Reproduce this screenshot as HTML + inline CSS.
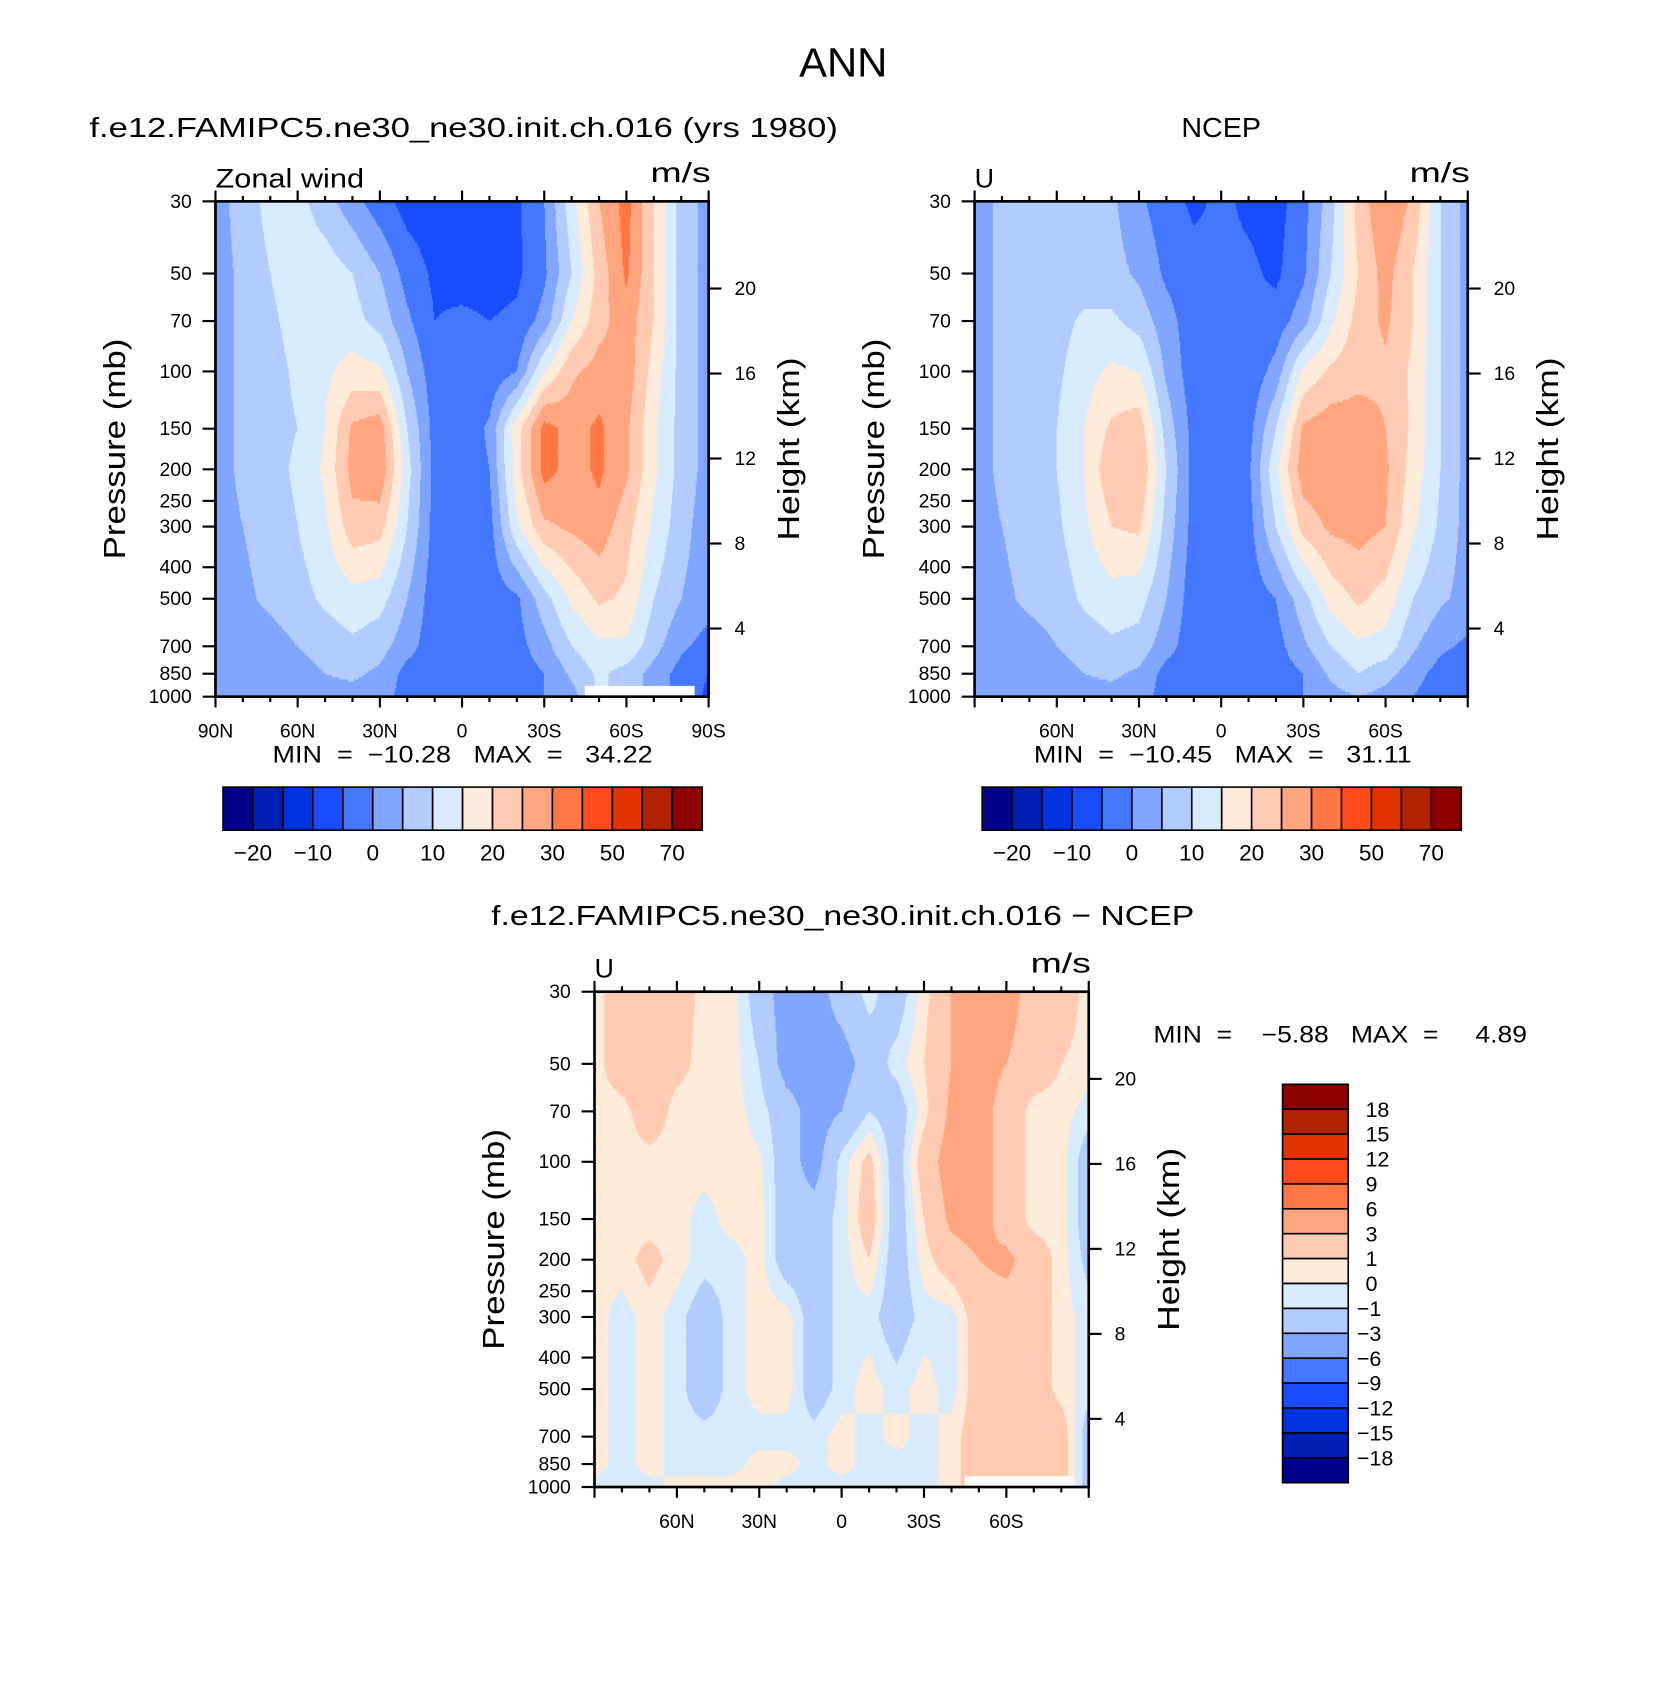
<!DOCTYPE html>
<html><head><meta charset="utf-8"><style>
html,body{margin:0;padding:0;background:#fff;}
svg{display:block;font-family:"Liberation Sans","DejaVu Sans",sans-serif;}
</style></head><body>
<svg id="fig" xmlns="http://www.w3.org/2000/svg" width="1680" height="1683" viewBox="0 0 1560 1563">
<rect x="0" y="0" width="1560" height="1563" fill="#fff"/>
<text x="783" y="71" font-size="38" text-anchor="middle" textLength="82" lengthAdjust="spacingAndGlyphs">ANN</text>
<text x="83" y="127" font-size="26" textLength="695" lengthAdjust="spacingAndGlyphs">f.e12.FAMIPC5.ne30_ne30.init.ch.016 (yrs 1980)</text>
<text x="1134" y="127" font-size="26" text-anchor="middle" textLength="74" lengthAdjust="spacingAndGlyphs">NCEP</text>
<text x="456" y="859" font-size="26" textLength="653" lengthAdjust="spacingAndGlyphs">f.e12.FAMIPC5.ne30_ne30.init.ch.016 − NCEP</text>
<g id="layer"></g>
</svg>
<script>
// ---- data ----
const latitudes = [90,80,70,60,50,40,30,20,10,0,-10,-20,-30,-40,-50,-60,-70,-80,-90];
const pressureLevels = [30,50,70,100,150,200,300,500,700,850,1000];
const fieldLevels = [-20,-15,-10,-5,0,5,10,15,20,25,30,40,50,60,70];
const fieldLevelLabels = ["−20","−10","0","10","20","30","50","70"];
const diffLevels = [-18,-15,-12,-9,-6,-3,-1,0,1,3,6,9,12,15,18];
const diffLevelLabels = ["18","15","12","9","6","3","1","0","−1","−3","−6","−9","−12","−15","−18"];
const palette = ["#00008c","#0020b4","#0033e0","#1a4cff","#4477ff","#80a6ff","#b3ccff","#d9ebff","#ffebd9","#ffccb3","#ffa680","#ff7744","#ff4c1a","#e03300","#b32200","#8c0000"];
const latTickLabelsFull = ["90N","60N","30N","0","30S","60S","90S"];
const latTickValuesFull = [90,60,30,0,-30,-60,-90];
const latTickLabels = ["60N","30N","0","30S","60S"];
const latTickValues = [60,30,0,-30,-60];
const pressureTicks = [30,50,70,100,150,200,250,300,400,500,700,850,1000];
const heightTicks = [4,8,12,16,20];
const N = null;
const modelU = [
 [3,7,12,12,7,2,-3,-7,-8,-8,-8,-6,0,13,25,32,20,8,3],
 [3,6,10,13,13,10,5,-2,-6,-7,-7,-6,-1,10,22,31,20,8,3],
 [3,6,9,12,13,12,8,1,-5,-4,-5,-4,2,15,23,28,20,8,3],
 [3,6,8,11,14,17,16,5,-3,-4,-4,0,15,24,27,28,18,8,3],
 [3,6,8,10,15,26,28,10,-2,-4,1,18,32,28,31,26,16,8,3],
 [3,6,8,11,16,27,29,12,-2,-4,0,18,32,28,31,26,16,8,3],
 [3,5,7,10,14,23,22,10,-2,-4,-2,14,24,26,28,22,14,7,2],
 [3,4,6,8,11,13,12,5,-3,-4,-3,-1,8,16,21,19,10,5,2],
 [2,3,3,5,7,9,7,2,-3,-4,-3,-2,3,10,14,14,7,1,-2],
 [2,2,2,3,5,6,4,-2,-3,-3,-3,-3,0,6,11,8,3,-2,-5],
 [1,1,1,2,3,3,2,-2,-3,-4,-3,-3,0,3,N,N,N,N,-6]
];
const ncepU = [
 [3,6,7,7,7,6,1,-3,-6,-4,-6,-7,-2,8,22,30,24,10,3],
 [3,6,7,7,7,7,4,-1,-3,-4,-4,-6,-1,10,20,27,20,10,3],
 [3,6,7,8,11,11,8,2,-3,-4,-4,-3,3,14,22,26,20,10,3],
 [3,6,7,9,13,16,15,4,-3,-4,-4,2,16,21,23,24,19,10,3],
 [3,6,7,10,15,21,23,8,-2,-4,-2,10,26,28,28,25,19,10,3],
 [3,6,7,10,15,24,25,10,-2,-4,-1,14,28,29,28,26,18,10,3],
 [3,5,7,9,14,20,21,8,-2,-4,-2,10,22,26,27,25,16,9,3],
 [3,4,6,7,11,13,12,5,-3,-4,-3,0,8,17,21,18,10,6,3],
 [2,3,3,5,7,9,8,2,-3,-5,-4,-2,4,10,14,13,6,1,-1],
 [2,2,2,3,5,6,4,-2,-3,-3,-3,-3,0,6,10,7,2,-2,-3],
 [1,1,1,2,3,3,2,-2,-3,-3,-3,-3,0,3,5,3,0,-3,-3]
];
const diffU = [
 [0.5,2,2,2,0.5,0.5,-2,-4,-4,-2,-0.5,-2,0.5,3,4,4,2,2,0.5],
 [0.5,2,2,1.5,0.5,0.5,-1,-4,-4,-4,-2,-0.5,1,3,4,3,2,1,0.5],
 [0.5,0.5,2,0.5,0.5,0.5,-0.5,-2,-4,-3,-1,-2,0.5,3.5,4,2,0.5,0.5,-0.5],
 [0.5,0.5,0.5,0.5,0.5,0.5,0.2,-2,-4,-0.5,1.5,-2,2,4,4,2,0.5,0.5,-2],
 [0.5,0.5,0.5,0.5,-0.5,0.5,0.5,-2,-2,-0.5,2,-2,1,3.5,4,2,0.5,0.5,-2],
 [0.5,0.5,1.5,0.5,-0.5,-0.5,0.5,-2,-2,-0.5,1,-2,0.5,2,3,3.5,2,0.5,-1.5],
 [0.5,-0.5,0.5,-0.5,-2,-0.5,0.5,0.5,-2,-0.5,-0.5,-2,-0.5,-0.5,2,2,2,0.5,-0.5],
 [0.5,-0.5,0.5,-0.5,-2,-0.5,0.5,0.5,-2,-0.5,0.5,-0.5,0.5,-0.5,2,2,2,0.5,-0.5],
 [0.5,-0.5,0.5,-0.5,-0.5,-0.5,-0.5,-0.5,-0.5,0.5,-0.5,0.5,-0.5,0.5,2,2,2,2,-2],
 [0.5,-0.5,0.5,-0.5,-0.5,-0.5,0.5,0.5,-0.5,0.5,-0.5,-0.5,-0.5,0.5,2,2,2,2,-2],
 [-0.5,-0.5,-0.5,0.5,0.5,0.5,0.5,-0.5,-0.5,-0.5,-0.5,-0.5,-0.5,0.5,N,N,N,N,-2]
];

// ---- drawing ----
const NS = "http://www.w3.org/2000/svg";
const layer = document.getElementById('layer');
function mk(tag, attrs, parent, txt){
  const e = document.createElementNS(NS, tag);
  for (const k in attrs) e.setAttribute(k, attrs[k]);
  if (txt !== undefined) e.textContent = txt;
  (parent || layer).appendChild(e);
  return e;
}
function colorIndex(v, levels){
  let i = 0; while (i < levels.length && v >= levels[i]) i++; return i;
}
function makeScales(x0, y0, w, h){
  const lp0 = Math.log10(30), lp1 = Math.log10(1000);
  return {
    x: lat => x0 + (90 - lat) / 180 * w,
    y: p => y0 + (Math.log10(p) - lp0) / (lp1 - lp0) * h,
    z: km => y0 + h * (1.034 - 0.0429 * km),
    x0, y0, w, h
  };
}
function sample(field, lat, p){
  const lp = Math.log10(p);
  let j = 0; while (j < pressureLevels.length - 2 && Math.log10(pressureLevels[j+1]) < lp) j++;
  const la = Math.log10(pressureLevels[j]), lb = Math.log10(pressureLevels[j+1]);
  const ty = Math.min(1, Math.max(0, (lp - la) / (lb - la)));
  const fi = (90 - lat) / 10;
  let i = Math.min(latitudes.length - 2, Math.floor(fi));
  const tx = fi - i;
  const a = field[j][i], b = field[j][i+1], c = field[j+1][i], d = field[j+1][i+1];
  if ((c === null || d === null) && ty > 0.5) {
    const nn = tx < 0.5 ? c : d;
    if (nn === null) return null;
  }
  const cc = c === null ? a : c, dd = d === null ? b : d;
  return (a*(1-tx) + b*tx) * (1-ty) + (cc*(1-tx) + dd*tx) * ty;
}
function txt(x, y, s, name, size, extra){
  const attrs = Object.assign({x, y, 'font-size': size}, extra || {});
  const t = mk('text', attrs, layer, s);
  
  
  return t;
}
function drawPanel(name, field, levels, sc, opts){
  const g = mk('g', {});
  
  
  const step = 2;
  for (let py = sc.y0; py < sc.y0 + sc.h; py += step) {
    const p = Math.pow(10, Math.log10(30) + (py + step/2 - sc.y0) / sc.h * (Math.log10(1000) - Math.log10(30)));
    let runStart = sc.x0, runColor = null;
    for (let px = sc.x0; px <= sc.x0 + sc.w; px += 1) {
      let col;
      if (px >= sc.x0 + sc.w) col = '__end';
      else {
        const lat = 90 - (px + 0.5 - sc.x0) / sc.w * 180;
        const v = sample(field, lat, p);
        col = v === null ? '#ffffff' : palette[colorIndex(v, levels)];
      }
      if (col !== runColor) {
        if (runColor !== null) {
          const r = mk('rect', {x: runStart, y: py, width: px - runStart + 0.6, height: step + 0.6, fill: runColor}, g);
          
          
        }
        runStart = px; runColor = col;
      }
    }
  }
  const fr = mk('rect', {x: sc.x0, y: sc.y0, width: sc.w, height: sc.h, fill: 'none', stroke: '#000', 'stroke-width': 2.5});
  
  
  const ax = mk('g', {stroke: '#000', 'stroke-width': 2});
  
  
  for (let lat = 90; lat >= -90; lat -= 10) {
    const x = sc.x(lat), major = lat % 30 === 0, len = major ? 10 : 5;
    mk('line', {x1: x, x2: x, y1: sc.y0, y2: sc.y0 - len}, ax);
    mk('line', {x1: x, x2: x, y1: sc.y0 + sc.h, y2: sc.y0 + sc.h + len}, ax);
  }
  pressureTicks.forEach(p => {
    const y = sc.y(p);
    mk('line', {x1: sc.x0, x2: sc.x0 - 12, y1: y, y2: y}, ax);
    txt(sc.x0 - 22, y + 6, String(p), 'pressure-tick-label', 18, {'text-anchor': 'end'});
  });
  heightTicks.forEach(z => {
    const y = sc.z(z);
    mk('line', {x1: sc.x0 + sc.w, x2: sc.x0 + sc.w + 12, y1: y, y2: y}, ax);
    txt(sc.x0 + sc.w + 24, y + 6, String(z), 'height-tick-label', 18);
  });
  const vals = opts.full ? latTickValuesFull : latTickValues;
  const labs = opts.full ? latTickLabelsFull : latTickLabels;
  vals.forEach((v, k) => {
    txt(sc.x(v), sc.y0 + sc.h + 38, labs[k], 'latitude-tick-label', 18, {'text-anchor': 'middle'});
  });
  const cyy = sc.y0 + 230;
  txt(0, 0, 'Pressure  (mb)', 'y-axis-title', 28, {'text-anchor': 'middle', textLength: 205, lengthAdjust: 'spacingAndGlyphs', transform: `translate(${sc.x0 - 84},${cyy}) rotate(-90)`});
  txt(0, 0, 'Height  (km)', 'right-axis-title', 28, {'text-anchor': 'middle', textLength: 170, lengthAdjust: 'spacingAndGlyphs', transform: `translate(${sc.x0 + sc.w + 84},${cyy}) rotate(-90)`});
  const ll = opts.leftLabel === 'U' ? {} : {textLength: 138, lengthAdjust: 'spacingAndGlyphs'};
  txt(sc.x0, sc.y0 - 13, opts.leftLabel, 'variable-label', 25, ll);
  txt(sc.x0 + sc.w + 2, sc.y0 - 18, 'm/s', 'units-label', 26, {'text-anchor': 'end', textLength: 56, lengthAdjust: 'spacingAndGlyphs'});
}
function hColorbar(x0, y0, w, h, name){
  const g = mk('g', {});
  
  
  const bw = w / palette.length;
  palette.forEach((c, i) => {
    const r = mk('rect', {x: x0 + i*bw, y: y0, width: bw, height: h, fill: c, stroke: '#000', 'stroke-width': 1.5}, g);
    
    
  });
  fieldLevelLabels.forEach((s, k) => {
    const t = mk('text', {x: x0 + (1 + 2*k) * bw, y: y0 + h + 28, 'font-size': 21, 'text-anchor': 'middle'}, g, s);
    
    
  });
}
function vColorbar(x0, y0, w, h){
  const g = mk('g', {});
  
  
  const bh = h / palette.length;
  palette.slice().reverse().forEach((c, i) => {
    const r = mk('rect', {x: x0, y: y0 + i*bh, width: w, height: bh, fill: c, stroke: '#000', 'stroke-width': 1.5}, g);
    
    
  });
  diffLevelLabels.forEach((s, k) => {
    const t = mk('text', {x: x0 + w + (s[0] === '−' ? 8 : 16), y: y0 + (k+1)*bh + 7, 'font-size': 20}, g, s);
    
    
  });
}

const s1 = makeScales(200, 187, 458, 460);
const s2 = makeScales(905, 187, 458, 460);
const s3 = makeScales(552, 921, 459, 460);
drawPanel('model', modelU, fieldLevels, s1, {full: true, leftLabel: 'Zonal wind'});
drawPanel('ncep', ncepU, fieldLevels, s2, {full: false, leftLabel: 'U'});
drawPanel('diff', diffU, diffLevels, s3, {full: false, leftLabel: 'U'});
const m1 = txt(253, 708, 'MIN  =  −10.28   MAX  =   34.22', 'model-min-max', 22, {textLength: 353, lengthAdjust: 'spacingAndGlyphs'});
m1.style.whiteSpace = 'pre';
const m2 = txt(960, 708, 'MIN  =  −10.45   MAX  =   31.11', 'ncep-min-max', 22, {textLength: 351, lengthAdjust: 'spacingAndGlyphs'});
m2.style.whiteSpace = 'pre';
const m3 = txt(1071, 968, 'MIN  =    −5.88   MAX  =     4.89', 'diff-min-max', 22, {textLength: 347, lengthAdjust: 'spacingAndGlyphs'});
m3.style.whiteSpace = 'pre';
hColorbar(207, 731, 445, 40, 'model-colorbar');
hColorbar(912, 731, 445, 40, 'ncep-colorbar');
vColorbar(1191, 1007, 61, 370);
</script>
</body></html>
